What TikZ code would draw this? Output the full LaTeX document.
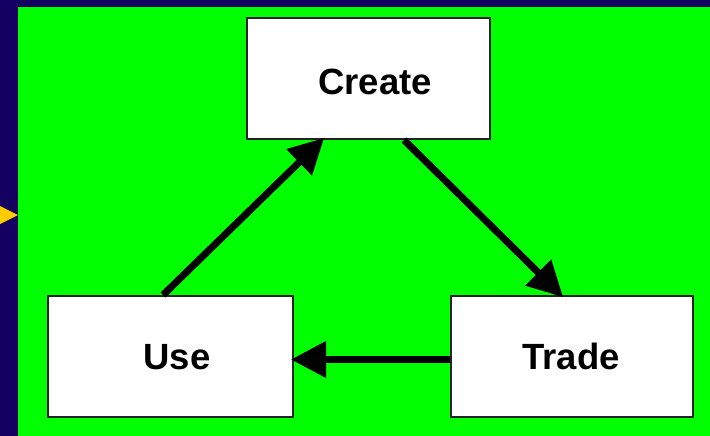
\documentclass[tikz,border=0pt]{standalone}
\usepackage{fontspec}
\setmainfont{Liberation Sans}
\usetikzlibrary{arrows.meta}
\definecolor{navy}{HTML}{140060}
\definecolor{brightgreen}{HTML}{00FF00}
\definecolor{gold}{HTML}{FFCC00}
\definecolor{edge}{HTML}{222222}
\tikzset{
  box/.style={draw=edge, line width=2pt, fill=white, inner sep=0pt, anchor=north west},
  lbl/.style={font=\fontsize{36.5}{40}\selectfont\bfseries, anchor=base, inner sep=0pt},
  conn/.style={line width=7pt, shorten >=-3pt, -{Triangle[length=35pt,width=35pt]}}
}
\begin{document}
\begin{tikzpicture}[x=1pt, y=-1pt]
\useasboundingbox (0,0) rectangle (710,436);
\fill[navy] (0,0) rectangle (710,436);
\fill[brightgreen] (18,7) rectangle (710,436);
\fill[gold] (0,206) -- (18,215) -- (0,224) -- cycle;
\node[box, minimum width=243pt, minimum height=121pt] (create) at (246,17) {};
\node[box, minimum width=245pt, minimum height=121pt] (use) at (47,295) {};
\node[box, minimum width=242pt, minimum height=121pt] (trade) at (450,295) {};
\node[lbl] (tcreate) at (375,95) {Create};
\node[lbl] (tuse) at (177,369) {Use};
\node[lbl] (ttrade) at (571,369) {Trade};
\draw[conn] ([xshift=116pt]use.north west) -- ([xshift=76pt]create.south west);
\draw[conn] ([xshift=158pt]create.south west) -- ([xshift=111pt]trade.north west);
\draw[conn] ([yshift=-3pt]trade.west) -- ([yshift=-3pt]use.east);
\end{tikzpicture}
\end{document}
